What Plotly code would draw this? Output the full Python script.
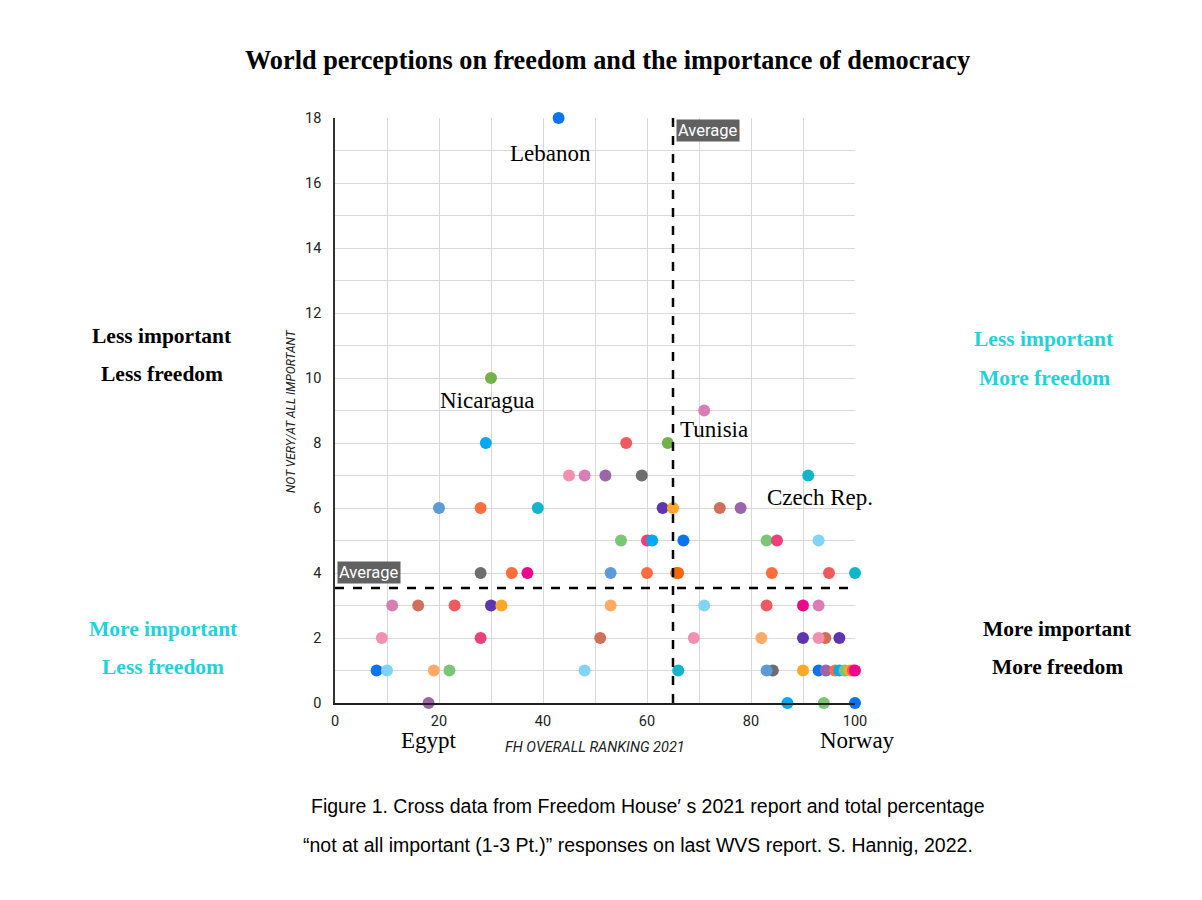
import plotly.graph_objects as go

# ---- data ----
fh_score = [43, 30, 71, 91, 29, 56, 64, 45, 48, 52, 59,
            20, 28, 39, 63, 65, 74, 78,
            55, 60, 61, 67, 83, 85, 93,
            28, 34, 37, 53, 60, 65.6, 66, 84, 95, 100,
            11, 16, 23, 30, 32, 53, 71, 83, 90, 93,
            9, 28, 51, 69, 82, 90, 94.3, 93, 97,
            8, 10, 19, 22, 48, 66, 84.2, 83, 90, 93, 94.4, 96.2, 97, 98, 99, 99.6, 100,
            18, 87, 94, 100]
not_important = [18, 10, 9, 7, 8, 8, 8, 7, 7, 7, 7,
                 6, 6, 6, 6, 6, 6, 6,
                 5, 5, 5, 5, 5, 5, 5,
                 4, 4, 4, 4, 4, 4, 4, 4, 4, 4,
                 3, 3, 3, 3, 3, 3, 3, 3, 3, 3,
                 2, 2, 2, 2, 2, 2, 2, 2, 2,
                 1, 1, 1, 1, 1, 1, 1, 1, 1, 1, 1, 1, 1, 1, 1, 1, 1,
                 0, 0, 0, 0]
point_colors = ["blue", "green", "orchid", "teal", "sky", "red", "green", "pink", "orchid", "purple", "gray",
                "steel", "dorange", "teal", "dpurple", "amber", "brown", "purple",
                "lgreen", "pinkred", "sky", "blue", "lgreen", "pinkred", "lblue",
                "gray", "dorange", "magenta", "steel", "dorange", "dorange", "orange2", "dorange", "red", "teal",
                "orchid", "brown", "red", "dpurple", "amber", "lorange", "lblue", "red", "magenta", "orchid",
                "pink", "pinkred", "brown", "pink", "lorange", "dpurple", "brown", "pink", "dpurple",
                "blue", "lblue", "lorange", "lgreen", "lblue", "teal", "gray", "steel", "amber", "blue", "purple",
                "dorange", "sky", "lgreen", "amber", "red", "magenta",
                "purple", "sky", "lgreen", "blue"]
palette = {
    "blue": "#0b73ee", "green": "#73b24a", "orchid": "#d77fb4", "teal": "#12b5cb",
    "sky": "#03a9f4", "red": "#f05a5e", "pink": "#f48fb1", "purple": "#9c64a9",
    "gray": "#6e6e6e", "steel": "#5c9bd6", "dorange": "#ff6d3f", "dpurple": "#5e35b1",
    "amber": "#ffa726", "brown": "#d0705a", "lgreen": "#7cc576", "pinkred": "#ec4079",
    "lblue": "#80d4f8", "magenta": "#ec078c", "orange2": "#f4660b", "lorange": "#ffab66",
}

labels = [("Lebanon", 0, -8, -35), ("Nicaragua", 1, -4, -22), ("Tunisia", 2, 10, -19),
          ("Czech Rep.", 3, 12, -22), ("Egypt", 71, 0, -37), ("Norway", 74, 2, -37)]

avg_fh = 65.0
avg_not_important = 3.54

x_ticks = [0, 20, 40, 60, 80, 100]
y_ticks = [0, 2, 4, 6, 8, 10, 12, 14, 16, 18]

# ---- layout helpers ----
L, R, T, B = 335, 855, 118, 703
W, H = 1202, 900


def px(xp, yp):
    return (xp - L) / (R - L), (B - yp) / (B - T)


fig = go.Figure()

fig.add_trace(go.Scatter(
    x=fh_score, y=not_important, mode="markers",
    marker=dict(size=12, color=[palette[c] for c in point_colors], line=dict(width=0)),
    cliponaxis=False, showlegend=False, hoverinfo="x+y",
))

# average lines
fig.add_shape(type="line", xref="x", yref="paper", x0=avg_fh, x1=avg_fh, y0=0, y1=1,
              line=dict(color="black", width=2.5, dash="dash"))
fig.add_shape(type="line", xref="paper", yref="y", x0=0, x1=1, y0=avg_not_important, y1=avg_not_important,
              line=dict(color="black", width=2.5, dash="dash"))

ann = []
ann.append(dict(text="Average", xref="x", yref="paper", x=avg_fh, y=1, xanchor="left", yanchor="top",
                xshift=3, yshift=-1, showarrow=False, bgcolor="#616161", borderpad=1,
                font=dict(family="Roboto", size=16.5, color="white")))
ann.append(dict(text="Average", xref="paper", yref="y", x=0, y=avg_not_important, xanchor="left",
                yanchor="bottom", xshift=2, yshift=4, showarrow=False, bgcolor="#616161", borderpad=1,
                font=dict(family="Roboto", size=16.5, color="white")))

for name, i, dx, dy in labels:
    ann.append(dict(text=name, x=fh_score[i], y=not_important[i], xref="x", yref="y",
                    xshift=dx, yshift=dy, showarrow=False, xanchor="center", yanchor="middle",
                    font=dict(family="Liberation Serif", size=23, color="black")))

cyan = "#1fd3da"
quad = [("Less important", 162, 336, "black"), ("Less freedom", 162, 374, "black"),
        ("Less important", 1044, 339, cyan), ("More freedom", 1044, 378, cyan),
        ("More important", 163, 629, cyan), ("Less freedom", 163, 667, cyan),
        ("More important", 1057, 629, "black"), ("More freedom", 1057, 667, "black")]
for t, xp, yp, col in quad:
    x, y = px(xp, yp)
    ann.append(dict(text="<b>%s</b>" % t, x=x, y=y, xref="paper", yref="paper", showarrow=False,
                    xanchor="center", yanchor="middle",
                    font=dict(family="Liberation Serif", size=21.5, color=col)))

x, y = px(607, 61)
ann.append(dict(text="<b>World perceptions on freedom and the importance of democracy</b>", x=x, y=y,
                xref="paper", yref="paper", showarrow=False, xanchor="center", yanchor="middle",
                font=dict(family="Liberation Serif", size=26.3, color="black")))

x, y = px(595, 747)
ann.append(dict(text="FH OVERALL RANKING 2021", x=x, y=y, xref="paper", yref="paper", showarrow=False,
                xanchor="center", yanchor="middle",
                font=dict(family="Roboto", size=14.5, color="#222222", style="italic")))
x, y = px(291, 411)
ann.append(dict(text="NOT VERY/AT ALL IMPORTANT", x=x, y=y, xref="paper", yref="paper", showarrow=False,
                xanchor="center", yanchor="middle", textangle=-90,
                font=dict(family="Roboto", size=12, color="#222222", style="italic")))

x, y = px(648, 806)
ann.append(dict(text="Figure 1. Cross data from Freedom House\u2032 s 2021 report and total percentage",
                x=x, y=y, xref="paper", yref="paper", showarrow=False, xanchor="center", yanchor="middle",
                font=dict(family="Liberation Sans", size=19.5, color="black")))
x, y = px(638, 845)
ann.append(dict(text="\u201cnot at all important (1-3 Pt.)\u201d responses on last WVS report. S. Hannig, 2022.",
                x=x, y=y, xref="paper", yref="paper", showarrow=False, xanchor="center", yanchor="middle",
                font=dict(family="Liberation Sans", size=19.5, color="black")))

grid = "#d9d9d9"
fig.update_layout(
    width=W, height=H, autosize=False,
    margin=dict(l=L, r=W - R, t=T, b=H - B, pad=0),
    paper_bgcolor="white", plot_bgcolor="white",
    annotations=ann,
    xaxis=dict(range=[0, 100], tickvals=x_ticks, showgrid=True, gridcolor=grid, gridwidth=1,
               minor=dict(dtick=10, showgrid=True, gridcolor=grid, gridwidth=1),
               zeroline=False, showline=True, linecolor="#222222", linewidth=2,
               ticks="outside", ticklen=4, tickcolor="rgba(0,0,0,0)",
               tickfont=dict(family="Roboto", size=14.5, color="#222222")),
    yaxis=dict(range=[0, 18], tickvals=y_ticks, showgrid=True, gridcolor=grid, gridwidth=1,
               minor=dict(dtick=1, showgrid=True, gridcolor=grid, gridwidth=1),
               zeroline=False, showline=True, linecolor="#333333", linewidth=1.5,
               ticks="outside", ticklen=9, tickcolor="rgba(0,0,0,0)",
               tickfont=dict(family="Roboto", size=14.5, color="#222222")),
)

fig.write_html("out.html")
